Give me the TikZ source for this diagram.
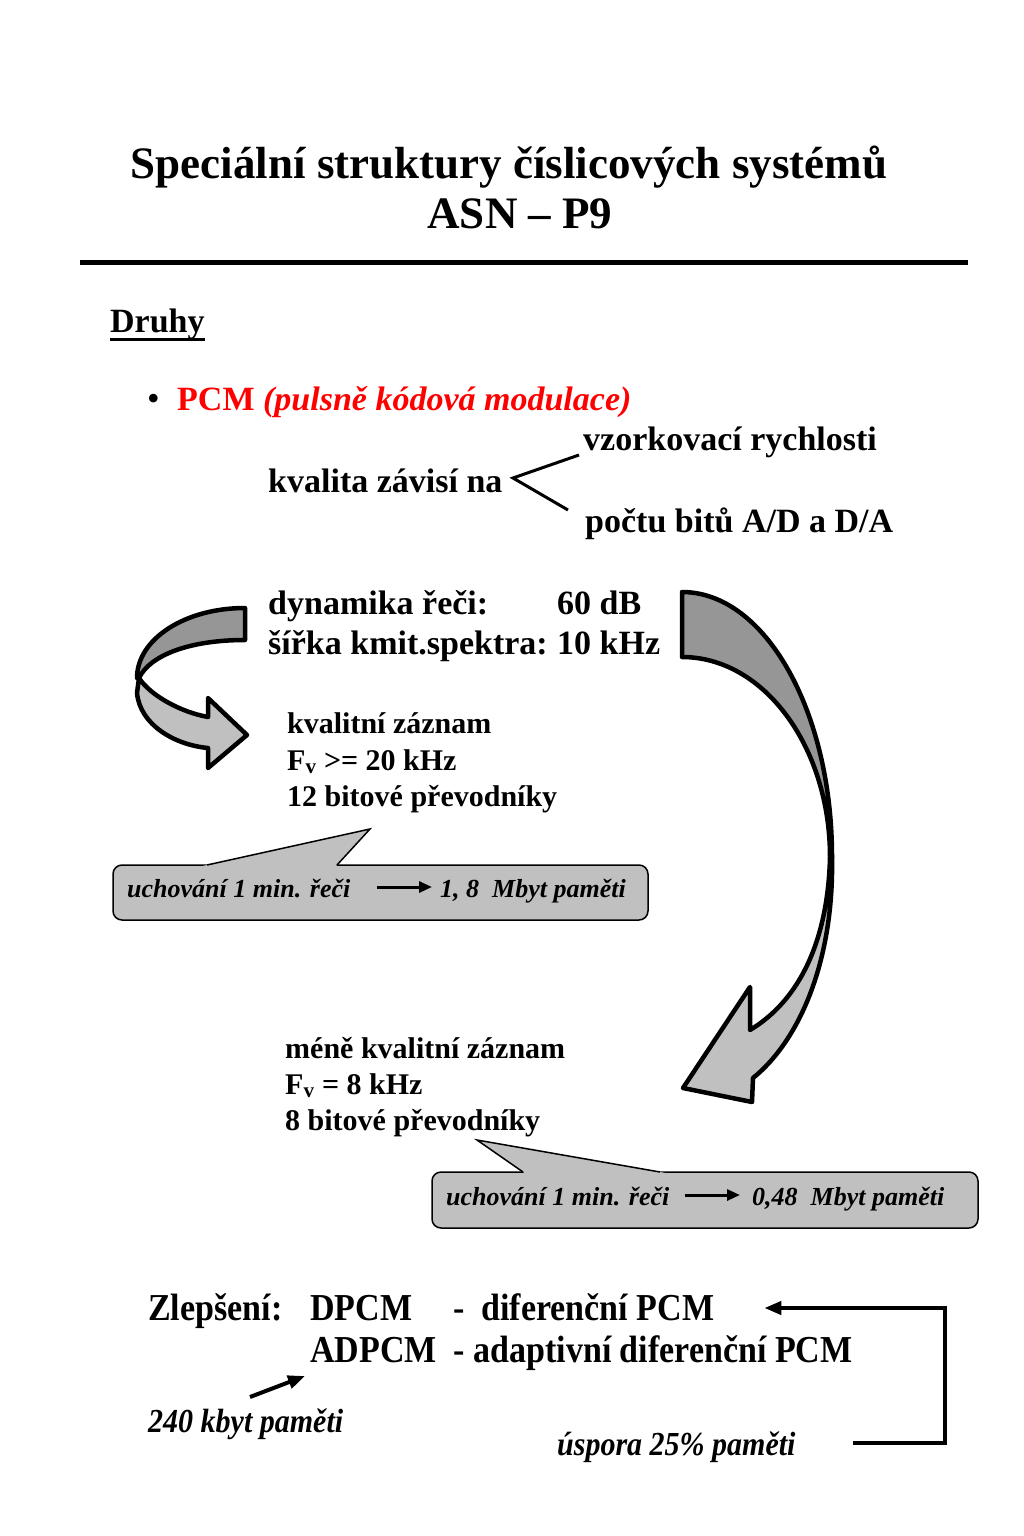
\documentclass[tikz,border=0pt]{standalone}
\usepackage{fontspec}
\setmainfont{Liberation Serif}
\usepackage{xcolor}
\usepackage{graphicx}
\definecolor{darkribbon}{RGB}{150,150,150}
\definecolor{lightribbon}{RGB}{192,192,192}
\definecolor{pcmred}{RGB}{255,0,0}
\usepackage{tikz}
\usetikzlibrary{positioning,arrows.meta,calc}
\newcommand{\tallbox}[1]{\scalebox{1}[1.12]{#1}}

\begin{document}
\begin{tikzpicture}[x=1pt, y=-1pt,
    txt/.style={inner sep=0pt, anchor=base west, font=\fontsize{34}{40}\selectfont\bfseries},
    sm/.style={txt, font=\fontsize{30}{36}\selectfont\bfseries},
    note/.style={txt, font=\fontsize{26}{30}\selectfont\bfseries\itshape},
    ribbon/.style={draw=black, line width=4.5pt, line join=round},
    callbox/.style={draw, line width=1.5pt, fill=lightribbon, rounded corners=9pt, inner sep=0pt},
    thinarrow/.style={line width=3pt, -{Triangle[length=13pt,width=11pt]}},
    fatarrow/.style={line width=4pt, -{Triangle[length=17pt,width=13pt]}}]
                \useasboundingbox (0,0) rectangle (1024,1536);
                % Draw the title and the rule under it
                \node[anchor=base, inner sep=0pt, font=\fontsize{45}{54}\selectfont\bfseries] (title) at (509,178) {Speciální struktury číslicových systémů};
                \node[anchor=base, inner sep=0pt, font=\fontsize{45}{54}\selectfont\bfseries] (asn) at (520,228) {ASN – P9};
                \draw[line width=5pt] (80,262) -- (968,262);

                % Heading and the PCM bullet
                \node[txt] (druhy) at (110,332) {Druhy};
                \draw[line width=2.5pt] (druhy.south west) -- (druhy.south east);
                \node[txt, font=\fontsize{36}{40}\selectfont] (bul) at (147,410) {•};
                \node[txt, text=pcmred] (pcm) at (177,410) {PCM \textit{(pulsně kódová modulace)}};

                % Quality depends on two things
                \node[txt] (vzork) at (583,450) {vzorkovací rychlosti};
                \node[txt] (kval) at (268,492) {kvalita závisí na};
                \node[txt] (pocet) at (585,532) {počtu bitů A/D a D/A};
                \coordinate (fork) at (513,478);
                \draw[line width=3pt] ($(vzork.base west)+(-4,5)$) -- (fork) -- ($(pocet.base west)+(-17,-22)$);

                % Speech parameters
                \node[txt] (dyn) at (268,614) {dynamika řeči:};
                \node[txt] (db) at (557,614) {60 dB};
                \node[txt] (sirka) at (268,654) {šířka kmit.spektra:};
                \node[txt] (khz) at (557,654) {10 kHz};

                % Good quality recording
                \node[sm] (kz) at (287,733) {kvalitní záznam};
                \node[sm] (fv) at (287,770) {F\textsubscript{v} >= 20 kHz};
                \node[sm] (bit) at (287,806) {12 bitové převodníky};

                % Left ribbon arrow
                \draw[ribbon, fill=lightribbon] (139,678) .. controls (150,695) and (180,712) .. (208,717) -- (208,698) -- (247,735) -- (208,768) -- (208,748) .. controls (175,745) and (140,725) .. (137,693) -- cycle;
                \draw[ribbon, fill=darkribbon] (245,608) -- (245,640) .. controls (190,640) and (150,655) .. (139,678) -- (137,678) .. controls (137,639) and (185,608) .. (245,608) -- cycle;

                % Right ribbon arrow
                \draw[ribbon, fill=lightribbon] (830,857) .. controls (828,940) and (800,1000) .. (750,1030) -- (750,987) -- (683,1088) -- (752,1102) -- (753,1078) .. controls (800,1040) and (834,960) .. (832,857) -- cycle;
                \draw[ribbon, fill=darkribbon] (682,592) -- (682,657) .. controls (764,657) and (830,747) .. (830,857) -- (832,857) .. controls (832,711) and (765,592) .. (682,592) -- cycle;

                % First callout
                \node[callbox, minimum width=535pt, minimum height=55pt] (box1) at (380.5,892.5) {};
                \fill[lightribbon] (200.2,866.5) -- (370,829) -- (335.6,866.5) -- cycle;
                \draw[line width=1.5pt] (207,865) -- (370,829) -- (337,865);
                \node[note] (c1a) at (127,897) {uchování 1 min. řeči};
                \node[note] (c1b) at (440,897) {1, 8\ \ Mbyt paměti};
                \draw[thinarrow] ($(c1a.base east)+(26,-10)$) -- ($(c1b.base west)+(-8,-10)$);

                % Lower quality recording
                \node[sm] (mkz) at (285,1058) {méně kvalitní záznam};
                \node[sm] (fv2) at (285,1094) {F\textsubscript{v} = 8 kHz};
                \node[sm] (bit2) at (285,1130) {8 bitové převodníky};

                % Second callout
                \node[callbox, minimum width=546pt, minimum height=56pt] (box2) at (705,1200) {};
                \fill[lightribbon] (525.2,1173.5) -- (477,1140) -- (668.6,1173.5) -- cycle;
                \draw[line width=1.5pt] (523,1172) -- (477,1140) -- (660,1172);
                \node[note] (c2a) at (446,1205) {uchování 1 min. řeči};
                \node[note] (c2b) at (752,1205) {0,48\ \ Mbyt paměti};
                \draw[thinarrow] ($(c2a.base east)+(15,-10)$) -- ($(c2b.base west)+(-12,-10)$);

                % Improvements
                \node[txt] (zlep) at (148,1320) {\tallbox{Zlepšení:}};
                \node[txt] (dpcm) at (310,1320) {\tallbox{DPCM}};
                \node[txt] (dif) at (453,1320) {\tallbox{-\ \ diferenční PCM}};
                \node[txt] (adpcm) at (310,1362) {\tallbox{ADPCM\ \ - adaptivní diferenční PCM}};
                \node[txt, font=\fontsize{30}{36}\selectfont\bfseries\itshape] (kbyt) at (148,1432) {\tallbox{240 kbyt paměti}};
                \node[txt, font=\fontsize{30}{36}\selectfont\bfseries\itshape] (uspora) at (557,1455) {\tallbox{úspora 25\% paměti}};
                \draw[fatarrow] ($(kbyt.base west)+(102,-35)$) -- ($(adpcm.base west)+(-5,14)$);
                \coordinate (rail) at (945,1380);
                \draw[fatarrow] ($(uspora.base east)+(57,-12)$) -| (rail) |- ($(dif.base east)+(50,-12)$);
\end{tikzpicture}
\end{document}
